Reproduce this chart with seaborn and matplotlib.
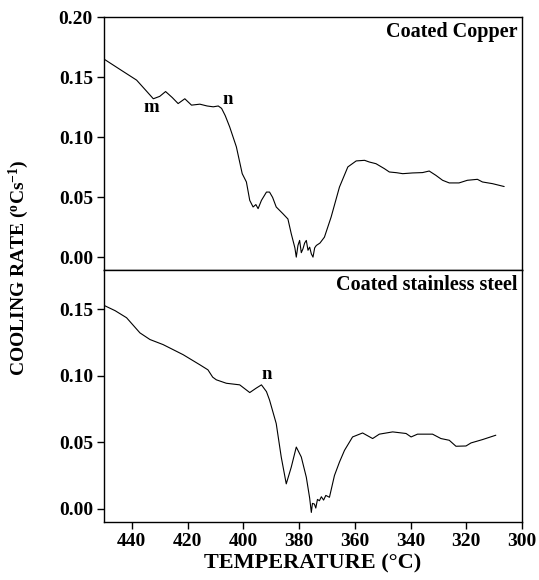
import numpy as np
import pandas as pd
import matplotlib
matplotlib.use("Agg")
import matplotlib.pyplot as plt
import seaborn as sns

# Coated copper cooling-rate curve
cu_temp = [450, 444, 438.3, 435, 432.3, 430, 427.9, 425.5, 423.4, 421, 418.6, 415.6, 413, 410.8, 409, 407.8,
           406.5, 404.9, 402.5, 400.4, 398.9, 397.7, 396.5, 395.5, 394.7, 393.5, 391.7, 390.6, 389.5, 388.2,
           385.8, 384, 382.8, 381.5, 381, 380.4, 379.8, 379.2, 378.6, 378, 377.4, 376.8, 376.2, 375.6, 375,
           374.4, 373.8, 372.5, 370.9, 368.5, 365.5, 362.5, 359.5, 356.5, 354.8, 352.4, 349.4, 347.6, 345,
           342.8, 339.3, 335.7, 333.3, 330.9, 328.5, 326.1, 322.6, 319.6, 316, 314.2, 310.6, 306.4]
cu_rate = [0.165, 0.156, 0.1475, 0.139, 0.132, 0.134, 0.138, 0.133, 0.128, 0.132, 0.1267, 0.1275, 0.126, 0.1253,
           0.126, 0.124, 0.118, 0.1086, 0.092, 0.0697, 0.0628, 0.0475, 0.042, 0.044, 0.0406, 0.0475, 0.0544,
           0.0544, 0.050, 0.042, 0.0364, 0.032, 0.0197, 0.008, 0.0003, 0.010, 0.0142, 0.004, 0.0072, 0.012,
           0.0142, 0.006, 0.0086, 0.003, 0.0003, 0.008, 0.010, 0.012, 0.0169, 0.0336, 0.0586, 0.0753, 0.0803,
           0.0808, 0.0794, 0.078, 0.0739, 0.0711, 0.0705, 0.0697, 0.0703, 0.0706, 0.0719, 0.0683, 0.0642,
           0.062, 0.062, 0.0642, 0.065, 0.0628, 0.0614, 0.059]

# Coated stainless steel cooling-rate curve
ss_temp = [450, 446, 441.9, 437.1, 433.5, 428.8, 421.6, 415.6, 412.7, 411, 409.7, 406.1, 401.3, 397.7, 395.4,
           393.5, 391.7, 390.6, 388.2, 386.4, 384.6, 382.8, 381, 379.2, 377.4, 376.2, 375.6, 375.2, 374.5,
           374, 373.4, 372.7, 372, 371.2, 370.4, 369.1, 367.3, 365.5, 363.7, 360.8, 357.2, 353.6, 351.2,
           346.4, 341.6, 339.8, 337.5, 332.1, 329.1, 326.1, 323.7, 320.1, 318.3, 314.2, 309.4]
ss_rate = [0.153, 0.149, 0.1437, 0.1323, 0.1273, 0.1235, 0.1159, 0.1083, 0.1045, 0.099, 0.097, 0.0944, 0.0932,
           0.0874, 0.0907, 0.0932, 0.0881, 0.0818, 0.0641, 0.0389, 0.0187, 0.0313, 0.0464, 0.0389, 0.0237,
           0.008, -0.0028, 0.004, 0.0035, 0.0005, 0.007, 0.006, 0.009, 0.0065, 0.010, 0.0086, 0.025, 0.0351,
           0.0439, 0.054, 0.057, 0.0528, 0.0561, 0.0578, 0.0566, 0.054, 0.0561, 0.0561, 0.0528, 0.0515,
           0.047, 0.0472, 0.0495, 0.052, 0.0553]

panel_titles = ["Coated Copper", "Coated stainless steel"]
x_ticks = [440, 420, 400, 380, 360, 340, 320, 300]
top_yticks = [0.00, 0.05, 0.10, 0.15, 0.20]
bot_yticks = [0.00, 0.05, 0.10, 0.15]

sns.set_style("ticks")
plt.rcParams['font.family'] = ['Liberation Serif', 'DejaVu Serif']
plt.rcParams['font.weight'] = 'bold'
plt.rcParams['text.color'] = 'black'
plt.rcParams['axes.labelcolor'] = 'black'
plt.rcParams['xtick.color'] = 'black'
plt.rcParams['ytick.color'] = 'black'
plt.rcParams['mathtext.fontset'] = 'custom'
plt.rcParams['mathtext.rm'] = 'Liberation Serif:bold'
plt.rcParams['mathtext.it'] = 'Liberation Serif:bold'
plt.rcParams['mathtext.bf'] = 'Liberation Serif:bold'

W, H = 539, 580
fig = plt.figure(figsize=(W / 100, H / 100), dpi=100)
L, R = 104 / W, 522 / W
ax1 = fig.add_axes([L, 1 - 269.5 / H, R - L, (269.5 - 17) / H])
ax2 = fig.add_axes([L, 1 - 522 / H, R - L, (522 - 269.5) / H])

df_cu = pd.DataFrame({"T": cu_temp, "rate": cu_rate})
df_ss = pd.DataFrame({"T": ss_temp, "rate": ss_rate})
sns.lineplot(data=df_cu, x="T", y="rate", sort=False, ax=ax1, color="black", lw=0.8)
sns.lineplot(data=df_ss, x="T", y="rate", sort=False, ax=ax2, color="black", lw=0.8)

tick_fs = 14
for ax in (ax1, ax2):
    ax.set_xlim(450, 300)
    ax.set_xlabel("")
    ax.set_ylabel("")
    for s in ax.spines.values():
        s.set_linewidth(1.0)
        s.set_color("black")
    ax.tick_params(direction="out", length=5, width=1, colors="black", labelcolor="black",
                   labelsize=tick_fs, pad=3)

ax1.set_ylim(-0.01, 0.20)
ax1.set_yticks(top_yticks)
ax1.set_yticklabels([f"{v:.2f}" for v in top_yticks], fontweight="bold", color="black")
ax1.set_xticks(x_ticks)
ax1.tick_params(axis="x", bottom=False, labelbottom=False)

ax2.set_ylim(-0.01, 0.18)
ax2.set_yticks(bot_yticks)
ax2.set_yticklabels([f"{v:.2f}" for v in bot_yticks], fontweight="bold", color="black")
ax2.set_xticks(x_ticks)
ax2.set_xticklabels([str(t) for t in x_ticks], fontweight="bold", color="black")

ax1.text(0.99, 0.94, panel_titles[0], transform=ax1.transAxes, ha="right", va="center",
         fontsize=14.5, fontweight="bold", color="black")
ax2.text(0.99, 0.94, panel_titles[1], transform=ax2.transAxes, ha="right", va="center",
         fontsize=14.5, fontweight="bold", color="black")

ax1.text(433, 0.1247, "m", ha="center", va="center", fontsize=13.5, fontweight="bold", color="black")
ax1.text(405.7, 0.1317, "n", ha="center", va="center", fontsize=13.5, fontweight="bold", color="black")
ax2.text(391.7, 0.1013, "n", ha="center", va="center", fontsize=13.5, fontweight="bold", color="black")

fig.text(313 / W, 1 - 563 / H, "TEMPERATURE (°C)", ha="center", va="center",
         fontsize=16, fontweight="bold", color="black")
fig.text(19 / W, 1 - 268 / H, r"COOLING RATE ($\mathregular{^oCs^{-1}}$)", ha="center", va="center",
         rotation=90, fontsize=14, fontweight="bold", color="black")

fig.savefig("out.png", dpi=100)
